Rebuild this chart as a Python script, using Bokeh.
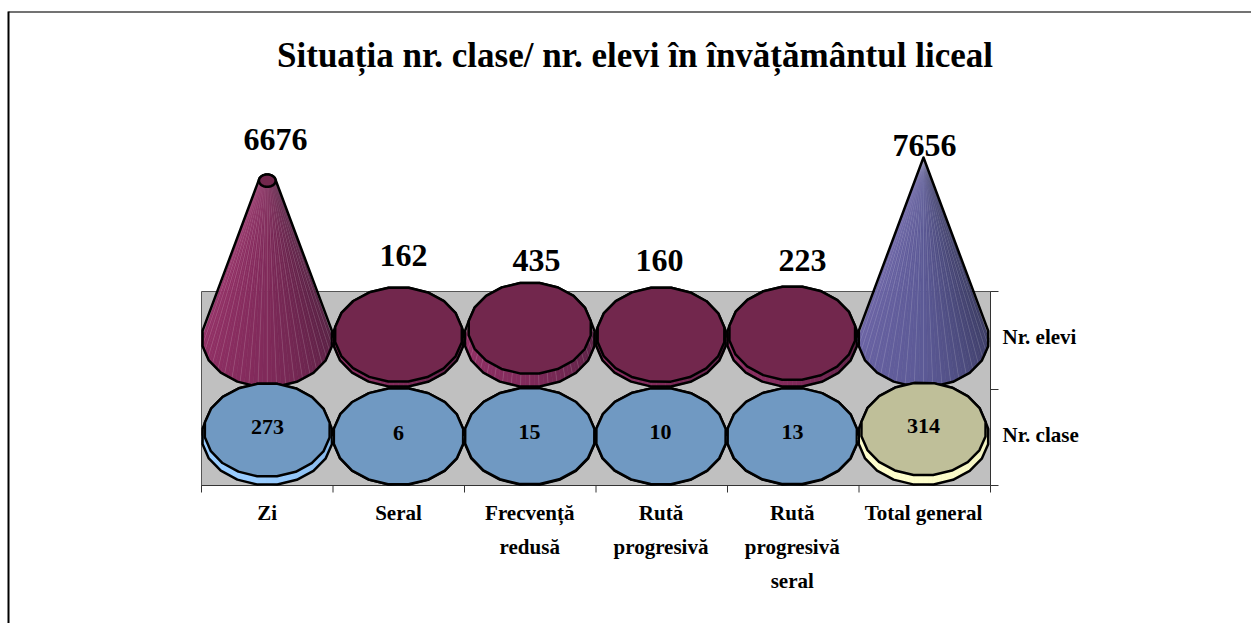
import math
from bokeh.plotting import figure
from bokeh.models import Range1d, ColumnDataSource
from bokeh.core.properties import value
from bokeh.embed import file_html
from bokeh.resources import INLINE

# ---- data ----
title = "Situația nr. clase/ nr. elevi în învățământul liceal"
categories = ["Zi", "Seral", "Frecvență redusă", "Rută progresivă", "Rută progresivă seral", "Total general"]
category_lines = [["Zi"], ["Seral"], ["Frecvență", "redusă"], ["Rută", "progresivă"],
                  ["Rută", "progresivă", "seral"], ["Total general"]]
rows = ["Nr. elevi", "Nr. clase"]
nr_elevi = [6676, 162, 435, 160, 223, 7656]
nr_clase = [273, 6, 15, 10, 13, 314]
axis_max = 7656

# ---- layout (page pixels, the ranges below map them 1:1) ----
W, H = 1251, 623
X0, X1 = 201.0, 990.0
SLOT = (X1 - X0) / 6
WALL_TOP, WALL_MID, WALL_BOT = 291.0, 389.0, 485.0
BASE_Y = {"Nr. elevi": 338.0, "Nr. clase": 436.0}
RX, RY = 65.5, 48.5
PX_PER_UNIT = 181.0 / axis_max
N_POLY = 20
N_SLICE = 44
FONT = value("Liberation Serif")

elevi_label_pos = [(275, 139), (403, 255), (536, 260), (659, 260), (802, 260), (924, 145)]
clase_label_pos = [(267, 426), (398, 432), (529, 431), (660, 431), (792, 431), (923, 425)]

p = figure(width=W, height=H, x_range=Range1d(0, W), y_range=Range1d(H, 0),
           output_backend="svg", toolbar_location=None, min_border=0,
           background_fill_color="white", border_fill_color="white", outline_line_color=None)
p.axis.visible = False
p.grid.visible = False

# frame of the picture
p.line([W, 8], [11.5, 11.5], line_color="#444444", line_width=1.5)
p.line([8, 8], [11, H], line_color="#000000", line_width=2)

# wall
p.quad(left=[X0], right=[X1], top=[WALL_TOP], bottom=[WALL_BOT], fill_color="#c0c0c0",
       line_color="#555555", line_width=1)
# axes
bx = [X0 + SLOT * i for i in range(7)]
p.segment(x0=bx, x1=bx, y0=[WALL_BOT] * 7, y1=[WALL_BOT + 7] * 7, line_color="#333333", line_width=1)
p.segment(x0=[X0], x1=[X1], y0=[WALL_BOT], y1=[WALL_BOT], line_color="#333333", line_width=1)
ry_t = [WALL_TOP, WALL_MID, WALL_BOT]
p.segment(x0=[X1] * 3, x1=[X1 + 8] * 3, y0=ry_t, y1=ry_t, line_color="#333333", line_width=1)
p.segment(x0=[X1], x1=[X1], y0=[WALL_TOP], y1=[WALL_BOT], line_color="#333333", line_width=1)


def centre(i):
    return X0 + SLOT * (i + 0.5) - 0.25 * i


def ring(cx, cy, f, n=N_POLY, a0=0.16):
    return [(cx + f * RX * math.cos(a0 + 2 * math.pi * k / n),
             cy + f * RY * math.sin(a0 + 2 * math.pi * k / n)) for k in range(n)]


def hull(pts):
    pts = sorted(set(pts))
    def cross(o, a, b):
        return (a[0] - o[0]) * (b[1] - o[1]) - (a[1] - o[1]) * (b[0] - o[0])
    lo, up = [], []
    for q in pts:
        while len(lo) >= 2 and cross(lo[-2], lo[-1], q) <= 0:
            lo.pop()
        lo.append(q)
    for q in reversed(pts):
        while len(up) >= 2 and cross(up[-2], up[-1], q) <= 0:
            up.pop()
        up.append(q)
    return lo[:-1] + up[:-1]


def mix(c1, c2, t):
    return "#%02x%02x%02x" % tuple(int(round(a + (b - a) * t)) for a, b in zip(c1, c2))


def shade(stops, t):
    t = max(0.0, min(1.0, t))
    if t < 0.5:
        return mix(stops[0], stops[1], t * 2)
    return mix(stops[1], stops[2], (t - 0.5) * 2)


PLUM = dict(side=[(150, 50, 104), (128, 42, 90), (86, 32, 66)], cap="#72274d")
BLUE = dict(side=[(153, 204, 255), (153, 204, 255), (130, 180, 230)], cap="#7099c2")
SLATE = dict(side=[(108, 100, 166), (92, 90, 150), (58, 58, 98)], cap="#5a5a8e")
CREAM = dict(side=[(255, 255, 204), (255, 255, 204), (240, 240, 190)], cap="#bfbf99")


def draw_cone(i, row, v, style):
    cx = centre(i)
    by = BASE_Y[row]
    h = v * PX_PER_UNIT
    ty = by - h
    f = max(1.0 - v / axis_max, 0.0)
    xs, ys, cols, rx_, ry_ = [], [], [], [], []
    for k in range(N_SLICE):
        a0 = math.pi * (1 - k / N_SLICE)
        a1 = math.pi * (1 - (k + 1) / N_SLICE)
        bx0, by0 = cx + RX * math.cos(a0), by + RY * math.sin(a0)
        bx1, by1 = cx + RX * math.cos(a1), by + RY * math.sin(a1)
        tx0, ty0 = cx + f * RX * math.cos(a0), ty + f * RY * math.sin(a0)
        tx1, ty1 = cx + f * RX * math.cos(a1), ty + f * RY * math.sin(a1)
        xs.append([bx0, bx1, tx1, tx0])
        ys.append([by0, by1, ty1, ty0])
        cols.append(shade(style["side"], (k + 0.5) / N_SLICE))
        rx_.append([bx0, tx0])
        ry_.append([by0, ty0])
    src = ColumnDataSource(dict(xs=xs, ys=ys, c=cols))
    p.patches("xs", "ys", source=src, fill_color="c", line_color="c", line_width=0.6)
    if h > 8:
        p.multi_line(rx_[2::2], ry_[2::2], line_color="#ffffff", line_alpha=0.16, line_width=0.8)
    outline = hull(ring(cx, by, 1.0) + (ring(cx, ty, f) if f > 0 else [(cx, ty)]))
    p.patch([q[0] for q in outline], [q[1] for q in outline], fill_alpha=0, line_color="#000000",
            line_width=2.5, line_join="round")
    if f > 0:
        cap = ring(cx, ty, f)
        p.patch([q[0] for q in cap], [q[1] for q in cap], fill_color=style["cap"], line_color="#000000",
                line_width=2.5, line_join="round")


for i, v in enumerate(nr_elevi):
    draw_cone(i, "Nr. elevi", v, SLATE if i == 5 else PLUM)
for i, v in enumerate(nr_clase):
    draw_cone(i, "Nr. clase", v, CREAM if i == 5 else BLUE)


def label(x, y, s, size, align="center"):
    p.text(x=[x], y=[y], text=[s], text_font=FONT, text_font_style="bold", text_font_size=size,
           text_color="#000000", text_align=align, text_baseline="middle")


label(634.5, 55, title, "35px")
for (x, y), v in zip(elevi_label_pos, nr_elevi):
    label(x, y, str(v), "32px")
for (x, y), v in zip(clase_label_pos, nr_clase):
    label(x, y, str(v), "22px")
for i, lines in enumerate(category_lines):
    cx = centre(i)
    for j, s in enumerate(lines):
        label(cx, 512 + 34 * j, s, "21px")
label(1002, 336, rows[0], "21px", "left")
label(1002, 434, rows[1], "21px", "left")

open("out.html", "w").write(file_html(p, INLINE))
